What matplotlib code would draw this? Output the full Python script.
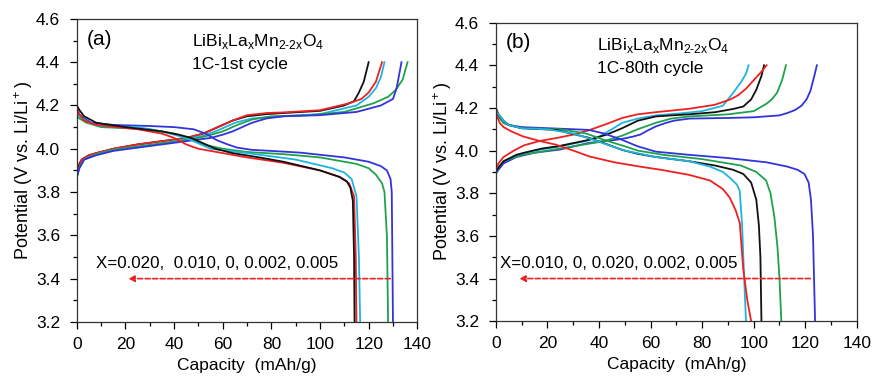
import matplotlib.pyplot as plt

plt.rcParams["font.family"] = ["Liberation Sans", "DejaVu Sans"]
plt.rcParams["mathtext.fontset"] = "custom"
plt.rcParams["mathtext.rm"] = "Liberation Sans"

colors = {
    "black": "#111111",
    "red": "#ee2020",
    "cyan": "#1eb4e2",
    "green": "#1fa34a",
    "blue": "#3333dd",
}

# (a) 1C, 1st cycle -- charge curves
a_chg_black_q = [0, 1, 2, 5, 8, 15, 25, 35, 45, 52, 58, 64, 70, 78, 85, 100, 110, 114, 116, 118, 120]
a_chg_black_v = [3.88, 3.93, 3.95, 3.97, 3.98, 4.00, 4.02, 4.035, 4.05, 4.07, 4.10, 4.13, 4.15, 4.16, 4.165, 4.175, 4.20, 4.22, 4.26, 4.31, 4.40]
a_chg_red_q = [0, 1, 2, 5, 8, 15, 25, 35, 45, 52, 58, 64, 70, 78, 85, 100, 112, 117, 120, 123, 125.5]
a_chg_red_v = [3.87, 3.92, 3.95, 3.97, 3.98, 4.00, 4.02, 4.035, 4.05, 4.07, 4.10, 4.13, 4.155, 4.165, 4.168, 4.178, 4.21, 4.23, 4.26, 4.31, 4.40]
a_chg_cyan_q = [0, 1, 3, 8, 15, 25, 35, 45, 52, 58, 65, 72, 85, 100, 115, 120, 123, 125, 126.5]
a_chg_cyan_v = [3.87, 3.91, 3.95, 3.975, 3.995, 4.01, 4.025, 4.045, 4.06, 4.085, 4.12, 4.14, 4.15, 4.16, 4.20, 4.24, 4.28, 4.33, 4.40]
a_chg_green_q = [0, 1, 3, 8, 15, 25, 35, 45, 52, 60, 66, 72, 80, 95, 110, 122, 128, 131, 134, 136]
a_chg_green_v = [3.87, 3.91, 3.95, 3.975, 3.995, 4.01, 4.025, 4.04, 4.055, 4.08, 4.11, 4.135, 4.15, 4.155, 4.17, 4.21, 4.24, 4.27, 4.32, 4.40]
a_chg_blue_q = [0, 1, 3, 8, 15, 25, 35, 45, 55, 60, 64, 68, 72, 78, 85, 100, 115, 125, 130, 131.5, 133.5]
a_chg_blue_v = [3.87, 3.91, 3.95, 3.97, 3.99, 4.005, 4.02, 4.035, 4.05, 4.065, 4.08, 4.10, 4.12, 4.14, 4.15, 4.155, 4.17, 4.20, 4.23, 4.28, 4.40]

# (a) 1C, 1st cycle -- discharge curves
a_dis_black_q = [0, 1, 3, 8, 20, 35, 42, 47, 52, 57, 64, 75, 85, 100, 108, 111, 112.5, 113.5, 114, 114.2]
a_dis_black_v = [4.20, 4.18, 4.15, 4.12, 4.10, 4.08, 4.065, 4.05, 4.025, 4.00, 3.98, 3.96, 3.94, 3.90, 3.87, 3.85, 3.82, 3.76, 3.50, 3.20]
a_dis_red_q = [0, 1, 3, 8, 25, 35, 40, 45, 50, 60, 70, 85, 100, 108, 112, 114, 114.7, 115]
a_dis_red_v = [4.19, 4.16, 4.13, 4.11, 4.09, 4.07, 4.05, 4.02, 4.00, 3.98, 3.96, 3.935, 3.90, 3.87, 3.84, 3.78, 3.50, 3.20]
a_dis_cyan_q = [0, 1, 5, 10, 25, 35, 45, 55, 70, 90, 105, 110, 113, 115, 116, 116.5]
a_dis_cyan_v = [4.17, 4.15, 4.12, 4.105, 4.10, 4.08, 4.05, 4.00, 3.98, 3.95, 3.91, 3.89, 3.86, 3.78, 3.50, 3.20]
a_dis_green_q = [0, 1, 4, 10, 30, 40, 45, 52, 60, 70, 85, 100, 115, 120, 123, 125.5, 126.5, 127.5, 128]
a_dis_green_v = [4.16, 4.14, 4.12, 4.10, 4.09, 4.07, 4.05, 4.02, 4.00, 3.985, 3.975, 3.96, 3.93, 3.91, 3.88, 3.84, 3.80, 3.60, 3.20]
a_dis_blue_q = [0, 1, 3, 6, 15, 30, 40, 48, 53, 57.5, 62, 66, 72, 80, 92, 110, 120, 125, 127.5, 129, 129.5, 130]
a_dis_blue_v = [4.18, 4.16, 4.14, 4.12, 4.11, 4.105, 4.10, 4.09, 4.07, 4.04, 4.02, 4.005, 3.995, 3.99, 3.982, 3.96, 3.94, 3.92, 3.90, 3.86, 3.80, 3.20]

# (b) 1C, 80th cycle -- charge curves
b_chg_red_q = [0, 1, 3, 7, 11, 17, 24, 30, 36, 43, 49, 55, 62, 75, 85, 91, 94, 97, 100, 103, 105]
b_chg_red_v = [3.91, 3.94, 3.97, 4.00, 4.025, 4.045, 4.06, 4.075, 4.095, 4.125, 4.153, 4.17, 4.18, 4.196, 4.215, 4.24, 4.26, 4.29, 4.33, 4.37, 4.40]
b_chg_cyan_q = [0, 1, 3, 8, 15, 25, 35, 40, 45, 49, 55, 62, 72, 80, 88, 92, 95, 97, 98]
b_chg_cyan_v = [3.89, 3.92, 3.95, 3.98, 4.00, 4.02, 4.045, 4.065, 4.10, 4.13, 4.15, 4.165, 4.175, 4.185, 4.21, 4.27, 4.32, 4.36, 4.40]
b_chg_black_q = [0, 1, 3, 8, 11, 18, 24, 30, 36, 43, 49, 55, 62, 68, 75, 85, 92, 96, 99, 101, 103, 104]
b_chg_black_v = [3.90, 3.92, 3.95, 3.98, 3.99, 4.01, 4.02, 4.035, 4.05, 4.075, 4.105, 4.14, 4.16, 4.165, 4.17, 4.18, 4.195, 4.207, 4.24, 4.285, 4.35, 4.40]
b_chg_green_q = [0, 1, 3, 10, 20, 30, 40, 45, 49, 55, 62, 68, 75, 90, 100, 105, 107, 109, 111, 112.5]
b_chg_green_v = [3.90, 3.92, 3.95, 3.98, 4.00, 4.02, 4.04, 4.055, 4.07, 4.10, 4.13, 4.15, 4.16, 4.17, 4.185, 4.22, 4.24, 4.27, 4.33, 4.40]
b_chg_blue_q = [0, 1, 3, 8, 15, 25, 36, 45, 49, 53, 56, 59, 62, 66, 69, 75, 90, 100, 110, 113, 116, 118.5, 120.5, 122, 123.5, 124.5]
b_chg_blue_v = [3.89, 3.91, 3.94, 3.97, 3.99, 4.005, 4.036, 4.048, 4.055, 4.065, 4.075, 4.095, 4.113, 4.13, 4.14, 4.15, 4.153, 4.156, 4.165, 4.176, 4.19, 4.21, 4.24, 4.28, 4.35, 4.40]

# (b) 1C, 80th cycle -- discharge curves
b_dis_red_q = [0, 0.5, 1.5, 3, 6, 10.6, 17, 23.5, 30, 36.4, 46, 55.8, 64, 75, 83, 88, 90.7, 93, 94.6, 95.9, 97.5, 99]
b_dis_red_v = [4.19, 4.16, 4.13, 4.11, 4.09, 4.066, 4.045, 4.027, 4.00, 3.972, 3.945, 3.925, 3.91, 3.886, 3.86, 3.82, 3.78, 3.72, 3.66, 3.45, 3.30, 3.20]
b_dis_cyan_q = [0, 1, 3, 5, 10, 20, 30, 38, 45, 50, 62, 75, 83, 88, 91, 93.5, 94.6, 95.5, 96.3, 97]
b_dis_cyan_v = [4.19, 4.17, 4.14, 4.12, 4.105, 4.10, 4.08, 4.05, 4.02, 4.00, 3.97, 3.95, 3.925, 3.90, 3.87, 3.84, 3.81, 3.65, 3.40, 3.20]
b_dis_black_q = [0, 1, 3, 5, 10, 23.5, 36, 43, 49, 55, 62, 75, 85, 92, 96, 99, 101, 102, 102.6, 103]
b_dis_black_v = [4.20, 4.17, 4.14, 4.12, 4.105, 4.097, 4.06, 4.03, 4.003, 3.985, 3.97, 3.95, 3.93, 3.91, 3.89, 3.85, 3.77, 3.65, 3.50, 3.20]
b_dis_green_q = [0, 1, 3, 5, 10, 25, 35, 42, 50, 55, 65, 80, 95, 101, 104.8, 106.5, 108, 109.2, 110, 110.7]
b_dis_green_v = [4.19, 4.16, 4.13, 4.12, 4.105, 4.10, 4.08, 4.05, 4.02, 4.00, 3.98, 3.96, 3.93, 3.90, 3.86, 3.80, 3.69, 3.55, 3.40, 3.20]
b_dis_blue_q = [0, 1, 3, 5, 10, 30, 36, 42, 49, 55, 62, 75, 90, 105, 113, 117, 119.7, 121.3, 122.2, 123, 123.8]
b_dis_blue_v = [4.18, 4.16, 4.13, 4.12, 4.11, 4.10, 4.097, 4.08, 4.05, 4.02, 3.995, 3.98, 3.965, 3.945, 3.925, 3.91, 3.89, 3.85, 3.77, 3.60, 3.20]

panel_a = [
    (a_chg_black_q, a_chg_black_v, "black"), (a_chg_red_q, a_chg_red_v, "red"),
    (a_chg_cyan_q, a_chg_cyan_v, "cyan"), (a_chg_green_q, a_chg_green_v, "green"),
    (a_chg_blue_q, a_chg_blue_v, "blue"),
    (a_dis_blue_q, a_dis_blue_v, "blue"), (a_dis_green_q, a_dis_green_v, "green"),
    (a_dis_cyan_q, a_dis_cyan_v, "cyan"), (a_dis_red_q, a_dis_red_v, "red"),
    (a_dis_black_q, a_dis_black_v, "black"),
]
panel_b = [
    (b_chg_blue_q, b_chg_blue_v, "blue"), (b_chg_green_q, b_chg_green_v, "green"),
    (b_chg_cyan_q, b_chg_cyan_v, "cyan"), (b_chg_black_q, b_chg_black_v, "black"),
    (b_chg_red_q, b_chg_red_v, "red"),
    (b_dis_blue_q, b_dis_blue_v, "blue"), (b_dis_green_q, b_dis_green_v, "green"),
    (b_dis_black_q, b_dis_black_v, "black"), (b_dis_cyan_q, b_dis_cyan_v, "cyan"),
    (b_dis_red_q, b_dis_red_v, "red"),
]

formula = r"LiBi$_\mathrm{x}$La$_\mathrm{x}$Mn$_\mathrm{2\text{-}2x}$O$_\mathrm{4}$"

fig = plt.figure(figsize=(8.73, 3.77), dpi=100)
ax_a = fig.add_axes([0.088, 0.146, 0.39, 0.804])
ax_b = fig.add_axes([0.568, 0.148, 0.4135, 0.792])

panels = [
    (ax_a, panel_a, "(a)", "1C-1st cycle", "X=0.020,  0.010, 0, 0.002, 0.005", 130, 20, 8, 0.338),
    (ax_b, panel_b, "(b)", "1C-80th cycle", "X=0.010, 0, 0.020, 0.002, 0.005", 123, 8, 1.5, 0.279),
]

for ax, curves, tag, cycle, x_txt, arr_start, arr_end, txt_x, f_x in panels:
    for q, v, c in curves:
        ax.plot(q, v, color=colors[c], lw=1.3)

    ax.set_xlim(0, 140)
    ax.set_ylim(3.2, 4.6)
    ax.set_xticks(range(0, 141, 20))
    ax.set_xticks(range(0, 141, 10), minor=True)
    ax.set_yticks([3.2, 3.4, 3.6, 3.8, 4.0, 4.2, 4.4, 4.6])
    ax.set_yticklabels(["3.2", "3.4", "3.6", "3.8", "4.0", "4.2", "4.4", "4.6"])
    ax.set_yticks([3.3, 3.5, 3.7, 3.9, 4.1, 4.3, 4.5], minor=True)
    ax.tick_params(which="major", direction="out", length=5, width=0.9, labelsize=12.5)
    ax.tick_params(axis="y", pad=7)
    ax.tick_params(axis="x", pad=6)
    ax.tick_params(which="minor", direction="out", length=3, width=0.9)
    for s in ax.spines.values():
        s.set_linewidth(0.9)
        s.set_color("#333333")

    ax.set_xlabel("Capacity  (mAh/g)", fontsize=12.5, labelpad=4)
    ax.set_ylabel(r"Potential (V vs. Li/Li$^+$)", fontsize=13, labelpad=1)

    ax.text(4, 4.505, tag, fontsize=15, va="center")
    ax.text(f_x, 0.925, formula, transform=ax.transAxes, fontsize=12.5, va="center")
    ax.text(f_x, 0.848, cycle, transform=ax.transAxes, fontsize=12.5, va="center")

    ax.text(txt_x, 3.47, x_txt, fontsize=12.2, va="center")
    ax.annotate("", xy=(arr_end, 3.4), xytext=(arr_start, 3.4),
                arrowprops=dict(arrowstyle="-|>", color="#ee2020", lw=1.2,
                                linestyle=(0, (3, 1.5)), mutation_scale=9))

fig.savefig("out.png", dpi=100)
